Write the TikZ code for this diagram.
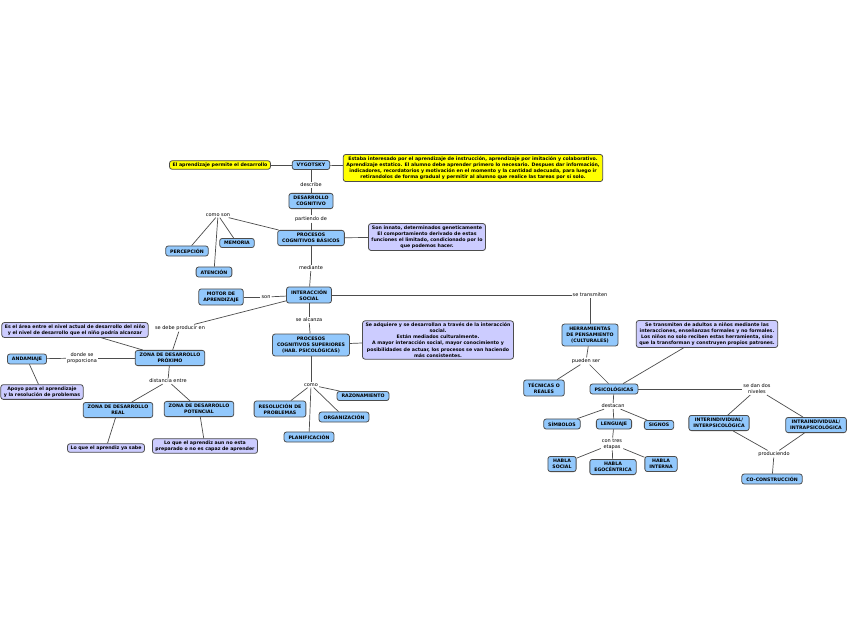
\documentclass[tikz,border=0pt]{standalone}
\usepackage{fontspec}
\setmainfont{DejaVu Sans}
\usepackage{xcolor}
\usepackage{tikz}
\usetikzlibrary{positioning}

\definecolor{conceptblue}{HTML}{92C8FC}
\definecolor{notelila}{HTML}{CCCCFF}
\definecolor{notegelb}{HTML}{FFFF00}
\definecolor{linegray}{HTML}{4D4D4D}

\newcommand{\tinyfont}{\fontsize{4.7}{6.1}\selectfont}
\newcommand{\relfont}{\fontsize{5}{5.8}\selectfont}

\begin{document}
\begin{tikzpicture}[x=1pt, y=-1pt,
  concept/.style={draw=linegray, line width=0.8pt, rounded corners=2.5pt, fill=conceptblue,
    align=center, font=\tinyfont\bfseries, inner xsep=4.5pt, inner ysep=2.8pt},
  nota/.style={draw=linegray, line width=0.8pt, rounded corners=2.5pt, fill=notelila,
    align=center, font=\tinyfont\bfseries, inner xsep=3pt, inner ysep=2pt},
  amarilla/.style={nota, fill=notegelb},
  rel/.style={align=center, font=\relfont, inner sep=1pt, fill=white},
  link/.style={draw=linegray, line width=0.7pt}]
  % hoja
  \useasboundingbox[fill=white] (0,0) rectangle (848,638);

  %---- VYGOTSKY ----
  \node[amarilla] (permite) at (220,165) {El aprendizaje permite el desarrollo};
  \node[concept] (vygotsky) at (311,165) {VYGOTSKY};
  \node[amarilla] (estaba) at (473,168) {Estaba interesado por el aprendizaje de instrucción, aprendizaje por imitación y colaborativo.\\
    Aprendizaje estatico. El alumno debe aprender primero lo necesario. Despues dar información,\\
    indicadores, recordatorios y motivación en el momento y la cantidad adecuada, para luego ir\\
    retirandolos de forma gradual y permitir al alumno que realice las tareas por sí solo.};

  \node[rel] (describe) at (311,185) {describe};
  \node[concept] (desarrollo) at (311,201) {DESARROLLO\\COGNITIVO};
  \node[rel] (partiendo) at (311,219) {partiendo de};
  \node[concept] (basicos) at (311,238) {PROCESOS\\COGNITIVOS BÁSICOS};
  \node[nota] (innato) at (427,237) {Son innato, determinados geneticamente\\
    El comportamiento derivado de estas\\
    funciones el limitado, condicionado por lo\\
    que podemos hacer.};

  % como son
  \node[rel] (comoson) at (218,215) {como son};
  \node[concept] (percepcion) at (187,251) {PERCEPCIÓN};
  \node[concept] (memoria) at (237,243) {MEMORIA};
  \node[concept] (atencion) at (214,272) {ATENCIÓN};

  %---- INTERACCION SOCIAL ----
  \node[rel] (mediante) at (311,268) {mediante};
  \node[concept] (interaccion) at (309,295) {INTERACCIÓN\\SOCIAL};
  \node[rel] (son) at (266,297) {son};
  \node[concept] (motor) at (221,297) {MOTOR DE\\APRENDIZAJE};
  \node[rel] (setransmiten) at (590,295) {se transmiten};

  \node[rel] (sealcanza) at (309,320) {se alcanza};
  \node[concept] (superiores) at (311,345) {PROCESOS\\COGNITIVOS SUPERIORES\\(HAB. PSICOLÓGICAS)};
  \node[nota] (adquiere) at (438,340) {Se adquiere y se desarrollan a través de la interacción\\
    social.\\
    Están mediados culturalmente.\\
    A mayor interacción social, mayor conocimiento y\\
    posibilidades de actuar, los procesos se van haciendo\\
    más consistentes.};

  % como
  \node[rel] (como) at (311,385) {como};
  \node[concept] (resolucion) at (280,409) {RESOLUCIÓN DE\\PROBLEMAS};
  \node[concept] (razonamiento) at (363,396) {RAZONAMIENTO};
  \node[concept] (organizacion) at (344,417) {ORGANIZACIÓN};
  \node[concept] (planificacion) at (309,437) {PLANIFICACIÓN};

  %---- ZONA DE DESARROLLO ----
  \node[rel] (producir) at (180,328) {se debe producir en};
  \node[concept] (zdp) at (170,358) {ZONA DE DESARROLLO\\PRÓXIMO};
  \node[nota] (area) at (75,330) {Es el área entre el nivel actual de desarrollo del niño\\
    y el nivel de desarrollo que el niño podría alcanzar};
  \node[rel] (donde) at (82,358) {donde se\\proporciona};
  \node[concept] (andamiaje) at (27,359) {ANDAMIAJE};
  \node[nota] (apoyo) at (42,392) {Apoyo para el aprendizaje\\y la resolución de problemas};
  \node[rel] (distancia) at (168,381) {distancia entre};
  \node[concept] (real) at (118,410) {ZONA DE DESARROLLO\\REAL};
  \node[concept] (potencial) at (199,409) {ZONA DE DESARROLLO\\POTENCIAL};
  \node[nota] (yasabe) at (106,448) {Lo que el aprendiz ya sabe};
  \node[nota] (aunno) at (205,446) {Lo que el aprendiz aun no esta\\preparado o no es capaz de aprender};

  %---- HERRAMIENTAS ----
  \node[concept] (herramientas) at (590,335) {HERRAMIENTAS\\DE PENSAMIENTO\\(CULTURALES)};
  \node[nota] (adultos) at (707,334) {Se transmiten de adultos a niños mediante las\\
    interacciones, enseñanzas formales y no formales.\\
    Los niños no solo reciben estas herramienta, sino\\
    que la transforman y construyen propios patrones.};
  \node[rel] (pueden) at (586,361) {pueden ser};
  \node[concept] (tecnicas) at (544,388) {TÉCNICAS O\\REALES};
  \node[concept] (psicologicas) at (614,389) {PSICOLÓGICAS};

  \node[rel] (destacan) at (613,406) {destacan};
  \node[concept] (simbolos) at (562,424) {SÍMBOLOS};
  \node[concept] (lenguaje) at (614,424) {LENGUAJE};
  \node[concept] (signos) at (659,425) {SIGNOS};
  \node[rel] (etapas) at (612,444) {con tres\\etapas};
  \node[concept] (social) at (562,464) {HABLA\\SOCIAL};
  \node[concept] (egocentrica) at (613,467) {HABLA\\EGOCÉNTRICA};
  \node[concept] (interna) at (661,464) {HABLA\\INTERNA};

  \node[rel] (niveles) at (757,389) {se dan dos\\niveles};
  \node[concept] (inter) at (719,423) {INTERINDIVIDUAL/\\INTERPSICOLÓGICA};
  \node[concept] (intra) at (816,425) {INTRAINDIVIDUAL/\\INTRAPSICOLÓGICA};
  \node[rel] (produciendo) at (774,454) {produciendo};
  \node[concept] (coconstruccion) at (772,479) {CO-CONSTRUCCIÓN};

  %---- enlaces ----
  \draw[link] (permite) -- (vygotsky);
  \draw[link] (vygotsky) -- (estaba);
  \draw[link] (vygotsky) -- (describe);
  \draw[link] (describe) -- (desarrollo);
  \draw[link] (desarrollo) -- (partiendo);
  \draw[link] (partiendo) -- (basicos);
  \draw[link] (basicos) -- (innato);
  \draw[link] (basicos) -- (comoson);
  \foreach \c in {percepcion, memoria, atencion}
    \draw[link] (comoson) -- (\c);
  \draw[link] (basicos) -- (mediante);
  \draw[link] (mediante) -- (interaccion);
  \draw[link] (interaccion) -- (son);
  \draw[link] (son) -- (motor);
  \draw[link] (interaccion) -- (setransmiten);
  \draw[link] (setransmiten) -- (herramientas);
  \draw[link] (interaccion) -- (sealcanza);
  \draw[link] (sealcanza) -- (superiores);
  \draw[link] (superiores) -- (adquiere);
  \draw[link] (superiores) -- (como);
  \foreach \c in {resolucion, razonamiento, organizacion, planificacion}
    \draw[link] (como) -- (\c);
  \draw[link] (interaccion) -- (producir);
  \draw[link] (producir) -- (zdp);
  \draw[link] (zdp) -- (area);
  \draw[link] (zdp) -- (donde);
  \draw[link] (donde) -- (andamiaje);
  \draw[link] (andamiaje) -- (apoyo);
  \draw[link] (zdp) -- (distancia);
  \draw[link] (distancia) -- (real);
  \draw[link] (distancia) -- (potencial);
  \draw[link] (real) -- (yasabe);
  \draw[link] (potencial) -- (aunno);
  \draw[link] (herramientas) -- (pueden);
  \draw[link] (pueden) -- (tecnicas);
  \draw[link] (pueden) -- (psicologicas);
  \draw[link] (psicologicas) -- (adultos);
  \draw[link] (psicologicas) -- (destacan);
  \foreach \c in {simbolos, lenguaje, signos}
    \draw[link] (destacan) -- (\c);
  \draw[link] (lenguaje) -- (etapas);
  \foreach \c in {social, egocentrica, interna}
    \draw[link] (etapas) -- (\c);
  \draw[link] (psicologicas) -- (niveles);
  \draw[link] (niveles) -- (inter);
  \draw[link] (niveles) -- (intra);
  \draw[link] (inter) -- (produciendo);
  \draw[link] (intra) -- (produciendo);
  \draw[link] (produciendo) -- (coconstruccion);

\end{tikzpicture}
\end{document}
